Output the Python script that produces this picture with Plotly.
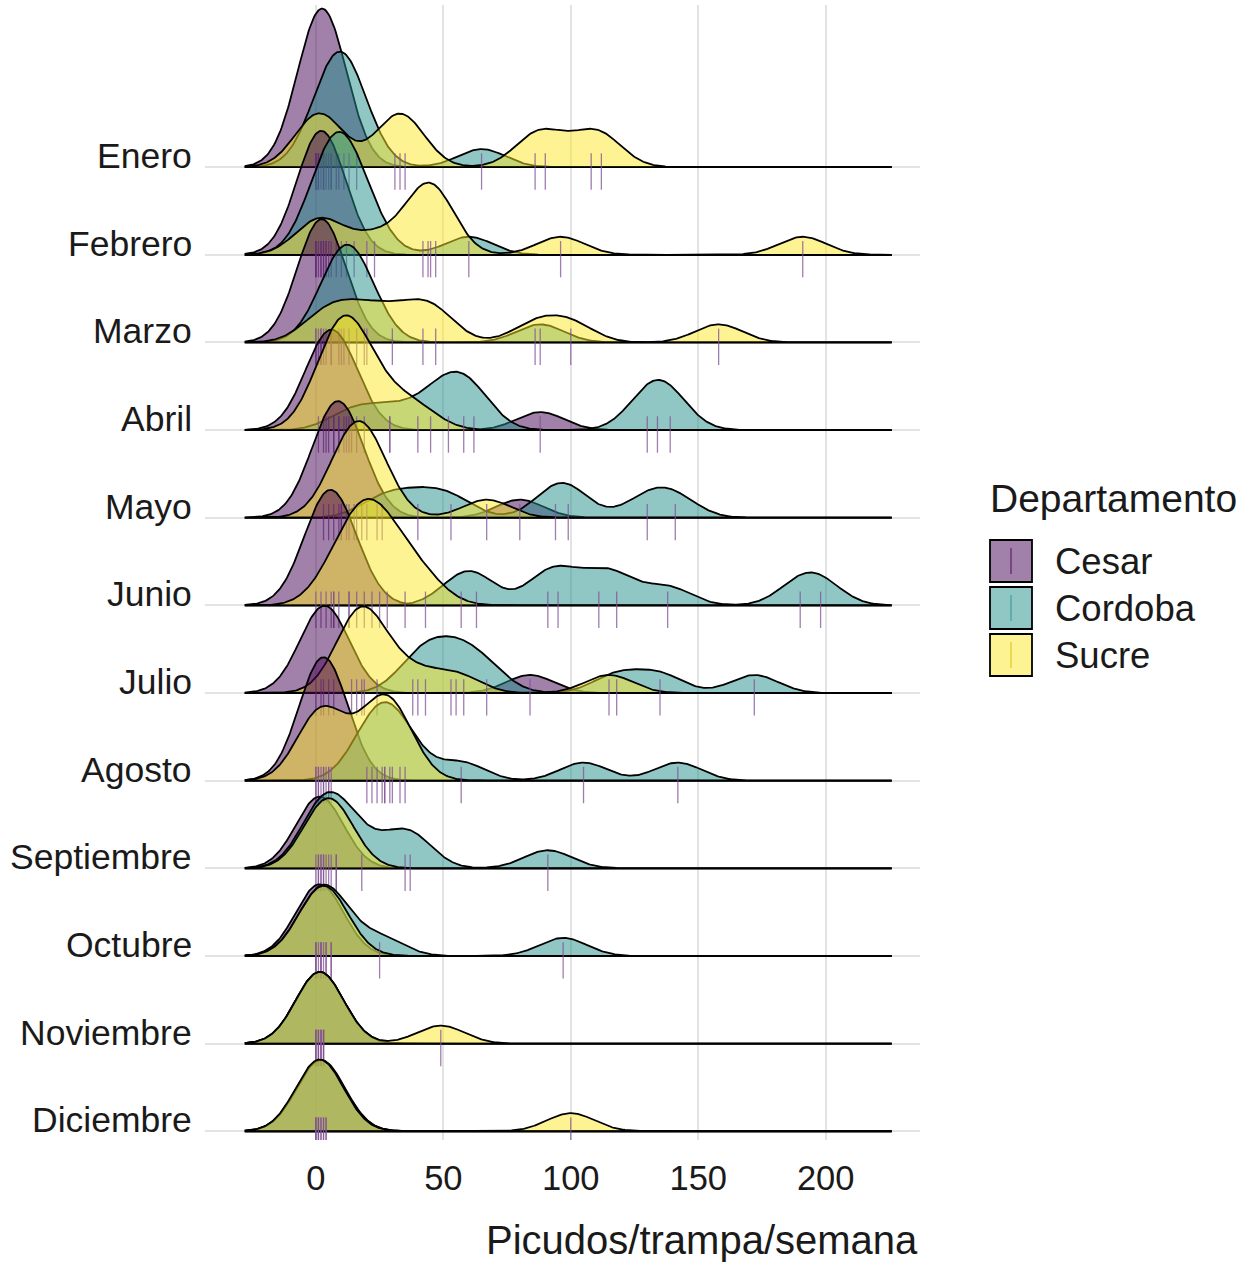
import numpy as np
import plotly.graph_objects as go

# Months, top to bottom
months = ["Enero", "Febrero", "Marzo", "Abril", "Mayo", "Junio", "Julio",
          "Agosto", "Septiembre", "Octubre", "Noviembre", "Diciembre"]
departments = ["Cesar", "Cordoba", "Sucre"]

# Weekly weevil captures per trap, one list per month
cesar = [
    [0, 0, 1, 1, 2, 3, 4, 5, 6],
    [0, 0, 1, 2, 3, 4, 5],
    [0, 0, 1, 2, 3, 4, 6],
    [1, 3, 5, 7, 9, 12, 88],
    [3, 5, 7, 9, 10, 12, 15, 80],
    [0, 2, 4, 6, 7, 9, 13],
    [0, 2, 3, 5, 7, 84],
    [0, 1, 2, 3, 4, 5, 6],
    [0, 1, 2, 3],
    [0, 1, 2, 3],
    [0, 1, 2, 3],
    [0, 1, 3, 4],
]
cordoba = [
    [3, 6, 8, 9, 11, 13, 16, 65],
    [2, 4, 6, 8, 10, 12, 15, 20, 60],
    [6, 9, 11, 13, 16, 19, 88],
    [14, 29, 45, 52, 58, 62, 130, 134, 139],
    [26, 40, 53, 94, 99, 130, 141],
    [57, 63, 91, 95, 111, 118, 138, 190, 198],
    [40, 43, 53, 58, 67, 118, 135, 172],
    [20, 24, 27, 30, 35, 57, 105, 142],
    [1, 3, 5, 8, 18, 35, 37, 91],
    [0, 2, 4, 6, 25, 97],
    [0, 1, 2, 3],
    [0, 1, 2, 4],
]
sucre = [
    [0, 1, 3, 31, 33, 35, 86, 90, 108, 112],
    [0, 3, 23, 42, 44, 45, 47, 96, 191],
    [2, 10, 20, 30, 42, 47, 86, 100, 158],
    [4, 7, 9, 11, 13, 16, 19, 29, 40],
    [10, 13, 16, 18, 20, 24, 67],
    [7, 13, 16, 19, 22, 25, 28, 35, 43],
    [14, 16, 18, 19, 24, 38, 55, 115],
    [0, 1, 3, 5, 22, 26, 27, 29, 33],
    [2, 4, 6, 8],
    [0, 2, 4, 6],
    [0, 1, 2, 3, 49],
    [0, 1, 2, 3, 100],
]
x_ticks = [0, 50, 100, 150, 200]

fill_colors = ["rgba(68,1,84,0.5)", "rgba(33,144,140,0.5)", "rgba(253,231,37,0.5)"]
tick_color = "rgba(130,80,150,0.75)"

# Kernel density settings shared by every ridge
bw = 9.3
ridge_scale = 4.8
all_values = np.concatenate([np.array(v, float) for d in (cesar, cordoba, sucre) for v in d])
grid = np.linspace(all_values.min() - 3 * bw, all_values.max() + 3 * bw, 600)


def ridge_height(values):
    v = np.asarray(values, float)[:, None]
    k = np.exp(-0.5 * ((grid[None, :] - v) / bw) ** 2) / (bw * np.sqrt(2 * np.pi))
    return ridge_scale * k.sum(axis=0)


fig = go.Figure()
n = len(months)
for i, month in enumerate(months):
    base = n - 1 - i
    for dep_data, fc in zip((cesar, cordoba, sucre), fill_colors):
        h = ridge_height(dep_data[i])
        fig.add_trace(go.Scatter(
            x=np.concatenate([grid, grid[::-1]]),
            y=np.concatenate([base + h, np.full(grid.size, base)]),
            mode="lines", fill="toself", fillcolor=fc,
            line=dict(color="black", width=1.8),
            hoverinfo="skip", showlegend=False))
    pts = [x for d in (cesar, cordoba, sucre) for x in d[i]]
    fig.add_trace(go.Scatter(
        x=pts, y=[base - 0.05] * len(pts), mode="markers",
        marker=dict(symbol="line-ns", size=26,
                    line=dict(color=tick_color, width=1.3)),
        hoverinfo="skip", showlegend=False))

# Month labels sitting on their baselines
annotations = []
for i, month in enumerate(months):
    annotations.append(dict(
        x=-11 / 715, xref="paper", y=n - 1 - i, yref="y",
        text=month, showarrow=False, xanchor="right", yanchor="middle",
        yshift=11, font=dict(size=35.5, color="#1a1a1a")))

annotations.append(dict(
    x=1, xref="paper", y=(1140 - 1240) / 1135, yref="paper",
    text="Picudos/trampa/semana", showarrow=False, xanchor="right",
    yanchor="middle", font=dict(size=40, color="#1a1a1a")))


def px_x(p):
    return (p - 205) / 715


def px_y(p):
    return (1140 - p) / 1135


# Legend drawn by hand
shapes = []
annotations.append(dict(
    x=px_x(988), xref="paper", y=px_y(498), yref="paper",
    text="Departamento", showarrow=False, xanchor="left", yanchor="middle",
    font=dict(size=39, color="#1a1a1a")))
key_line_colors = ["rgba(68,1,84,0.6)", "rgba(33,144,140,0.6)", "rgba(220,200,40,0.8)"]
for j, (dep, fc) in enumerate(zip(departments, fill_colors)):
    top = 540 + 47 * j
    shapes.append(dict(type="rect", xref="paper", yref="paper",
                       x0=px_x(990), x1=px_x(1032), y0=px_y(top + 42), y1=px_y(top),
                       fillcolor=fc, line=dict(color="black", width=1.8)))
    shapes.append(dict(type="line", xref="paper", yref="paper",
                       x0=px_x(1011), x1=px_x(1011), y0=px_y(top + 34), y1=px_y(top + 8),
                       line=dict(color=key_line_colors[j], width=1.5)))
    annotations.append(dict(
        x=px_x(1053), xref="paper", y=px_y(top + 21), yref="paper",
        text=dep, showarrow=False, xanchor="left", yanchor="middle",
        font=dict(size=36.5, color="#1a1a1a")))

fig.update_layout(
    width=1243, height=1262,
    margin=dict(l=205, r=323, t=5, b=122),
    paper_bgcolor="white", plot_bgcolor="white",
    font=dict(family="Liberation Sans, Arial, sans-serif"),
    annotations=annotations, shapes=shapes,
    showlegend=False,
)
fig.update_xaxes(range=[-43.5, 237], tickvals=x_ticks,
                 ticktext=[str(t) for t in x_ticks],
                 showgrid=True, gridcolor="#e3e3e3", gridwidth=1.5,
                 zeroline=False, showline=False, ticks="",
                 ticklabelstandoff=14,
                 tickfont=dict(size=34.5, color="#1a1a1a"))
fig.update_yaxes(range=[-0.1, 12.85], tickvals=list(range(n)),
                 showticklabels=False, showgrid=True, gridcolor="#e3e3e3",
                 gridwidth=1.5, zeroline=False, showline=False, ticks="")

fig.write_html("out.html")
